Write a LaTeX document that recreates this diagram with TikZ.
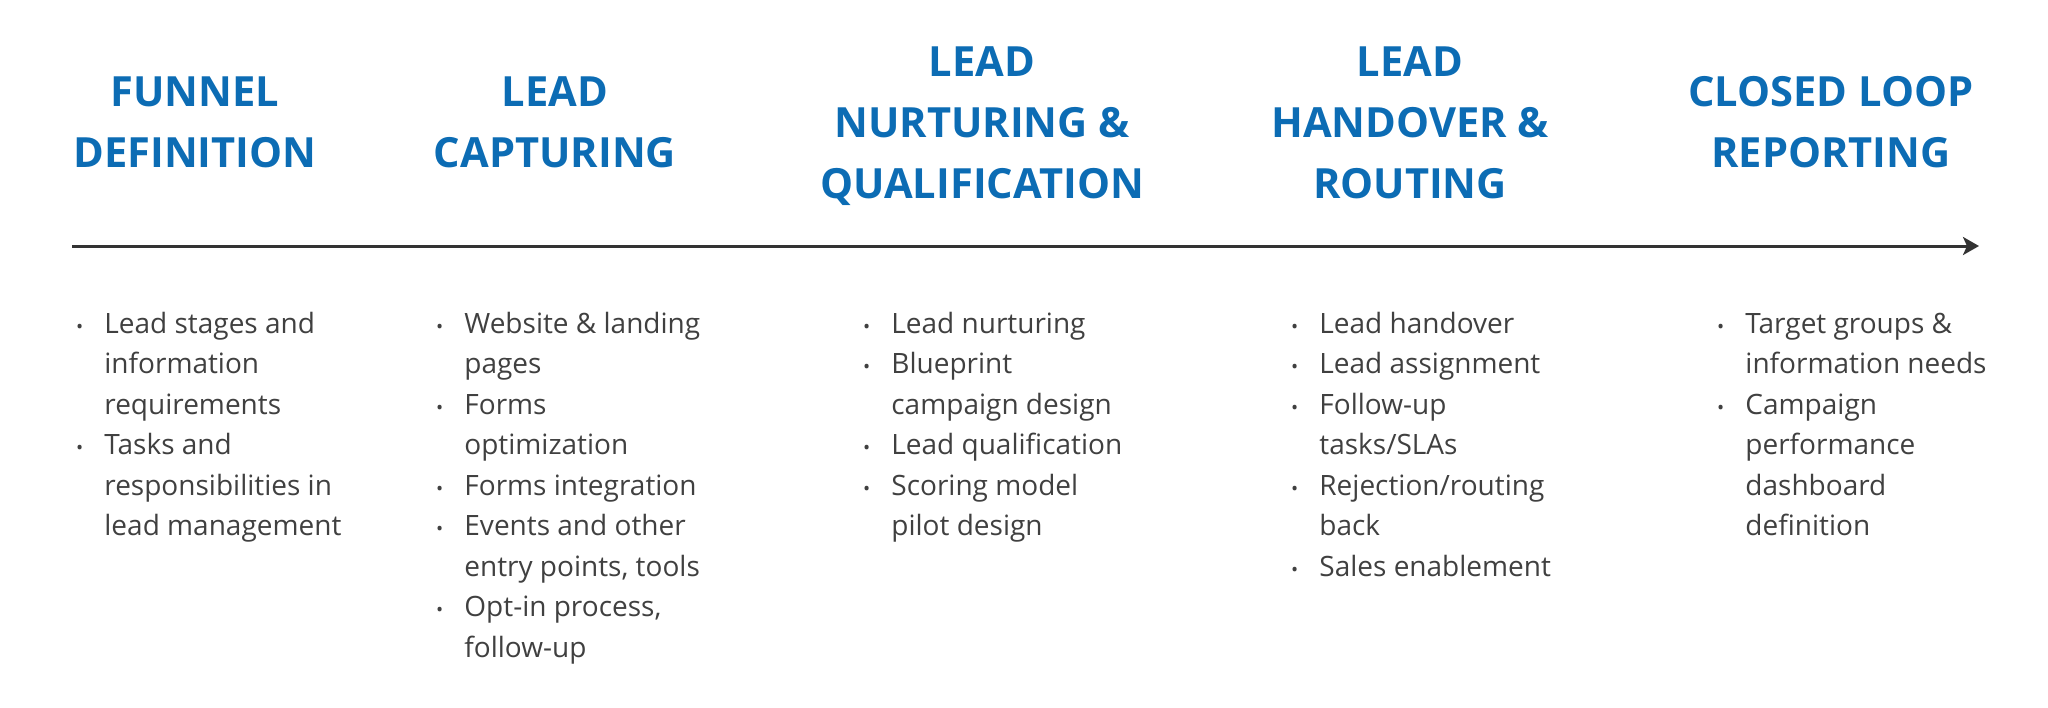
\documentclass[tikz,border=0pt]{standalone}
\usepackage{fontspec}
\setmainfont{Open Sans}
\usetikzlibrary{arrows.meta}
\definecolor{stageblue}{RGB}{12,108,180}
\definecolor{bodygray}{RGB}{64,64,64}
\definecolor{arrowgray}{RGB}{51,51,51}
\newcommand{\bitem} % small bullet hanging left of the line
{\llap{{\fontsize{9.5pt}{9.5pt}\selectfont\textbullet}\hspace{10.6pt}}}
\tikzset{
	heading/.style={anchor=base, align=center, inner sep=0pt, text=stageblue,
		font=\fontsize{20.8pt}{30.5pt}\selectfont\bfseries},
	items/.style={anchor=base west, align=left, inner sep=0pt, text=bodygray,
		font=\fontsize{14pt}{20.25pt}\selectfont}
}

\begin{document}
\begin{tikzpicture}[x=0.5pt, y=-0.5pt]
	% canvas: 2048 x 707 px, 1 px = 0.5 pt
	% base anchor sits on the last line: y = first baseline + (lines-1)*pitch
	\useasboundingbox (0,0) rectangle (2048,707);
	
	% stage titles (pitch 61)
	\node[heading] (funnel) at (195,167) {FUNNEL\\DEFINITION};
	\node[heading] (capture) at (555,167) {LEAD\\CAPTURING};
	\node[heading] (nurture) at (982,198) {LEAD\\NURTURING \&\\QUALIFICATION};
	\node[heading] (handover) at (1410,198) {LEAD\\HANDOVER \&\\ROUTING};
	\node[heading] (report) at (1831,167) {CLOSED LOOP\\REPORTING};
	
	% time line
	\coordinate (start) at (72,246);
	\coordinate (end) at (1979,246);
	\draw[arrowgray, line width=1.5pt, -{Stealth[length=8pt, width=9pt, inset=2pt]}] (start) -- (end);
	
	% tasks per stage (pitch 40.5, first baseline 333)
	\node[items] (funnelitems) at (104,535.5) {\bitem Lead stages and\\information\\requirements\\
		\bitem Tasks and\\responsibilities in\\lead management};
	\node[items] (captureitems) at (464,657) {\bitem Website \& landing\\pages\\
		\bitem Forms\\optimization\\
		\bitem Forms integration\\
		\bitem Events and other\\entry points, tools\\
		\bitem Opt-in process,\\follow-up};
	\node[items] (nurtureitems) at (891,535.5) {\bitem Lead nurturing\\
		\bitem Blueprint\\campaign design\\
		\bitem Lead qualification\\
		\bitem Scoring model\\pilot design};
	\node[items] (handoveritems) at (1319,576) {\bitem Lead handover\\
		\bitem Lead assignment\\
		\bitem Follow-up\\tasks/SLAs\\
		\bitem Rejection/routing\\back\\
		\bitem Sales enablement};
	\node[items] (reportitems) at (1745,535.5) {\bitem Target groups \&\\information needs\\
		\bitem Campaign\\performance\\dashboard\\definition};
\end{tikzpicture}
\end{document}
